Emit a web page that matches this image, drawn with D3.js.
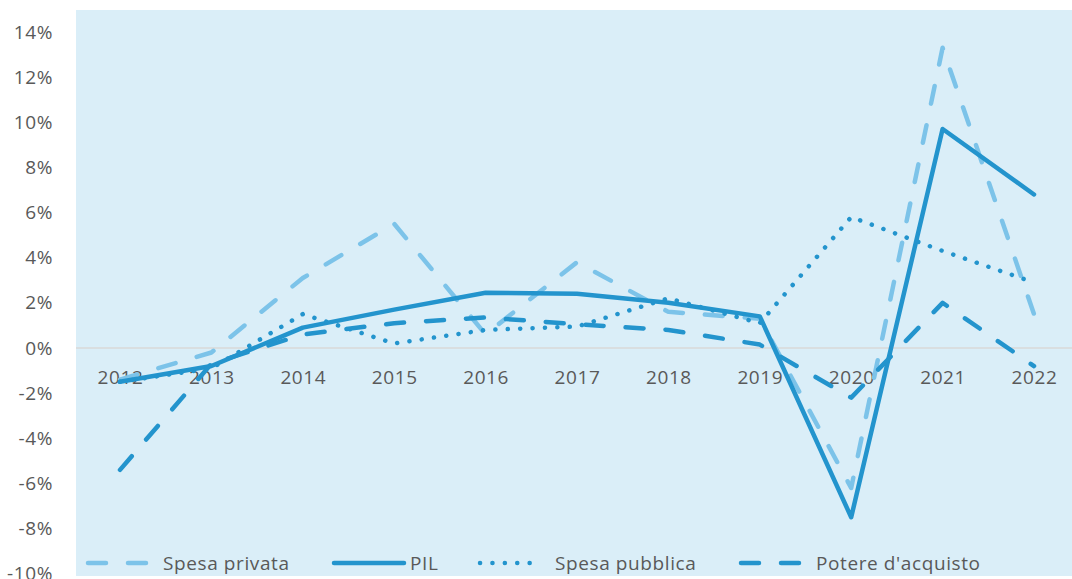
<!DOCTYPE html>
<html>
<head>
<meta charset="utf-8">
<script src="https://cdn.jsdelivr.net/npm/d3@7"></script>
<style>
  body { margin: 0; background: #fff; }
  svg { display: block; font-family: "Open Sans", sans-serif; }
</style>
</head>
<body>
<svg width="1072" height="579"></svg>
<script>
const years = [2012, 2013, 2014, 2015, 2016, 2017, 2018, 2019, 2020, 2021, 2022];
const spesaPrivata = [-1.4, -0.2, 3.1, 5.5, 0.6, 3.8, 1.6, 1.3, -6.2, 13.3, 1.5];
const pil = [-1.5, -0.8, 0.9, 1.7, 2.45, 2.4, 2.0, 1.4, -7.5, 9.7, 6.8];
const spesaPubblica = [-1.5, -0.9, 1.5, 0.2, 0.8, 0.95, 2.2, 1.1, 5.8, 4.3, 2.9];
const potere = [-5.4, -0.7, 0.6, 1.1, 1.35, 1.05, 0.8, 0.15, -2.2, 2.0, -0.8];
const yTicks = [-10, -8, -6, -4, -2, 0, 2, 4, 6, 8, 10, 12, 14];

const series = [
    { name: "Spesa privata", values: spesaPrivata, color: "#7cc3e9", dash: "18,22", width: 4.5 },
    { name: "PIL", values: pil, color: "#2394cd", dash: null, width: 4.5 },
    { name: "Spesa pubblica", values: spesaPubblica, color: "#2394cd", dash: "0.1,12.3", width: 4.5 },
    { name: "Potere d'acquisto", values: potere, color: "#2394cd", dash: "18,22", width: 4.5 }
];

const svg = d3.select("svg");
const bg = { x: 76, y: 10, w: 996, h: 566 };
const fontSize = 19;
const spacing = "0.6px";

svg.append("rect")
    .attr("x", bg.x).attr("y", bg.y)
    .attr("width", bg.w).attr("height", bg.h)
    .attr("fill", "#daeef8");

const x = d3.scalePoint().domain(years).range([120, 1034]);
const y = d3.scaleLinear().domain([-10, 15]).range([573.7, 9.4]);

// y axis labels
const yAxis = svg.append("g")
    .attr("transform", `translate(${bg.x - 23},0)`)
    .call(d3.axisLeft(y).tickValues(yTicks).tickSize(0).tickPadding(0).tickFormat(d => d + "%"));
yAxis.select(".domain").remove();
yAxis.selectAll("text")
    .attr("fill", "#595959")
    .attr("font-size", fontSize)
    .attr("letter-spacing", spacing)
    .attr("font-family", "Open Sans, sans-serif");

// zero line
svg.append("line")
    .attr("x1", bg.x).attr("x2", bg.x + bg.w)
    .attr("y1", y(0)).attr("y2", y(0))
    .attr("stroke", "#d9d9d9").attr("stroke-width", 1.5);

// category labels
const xAxis = svg.append("g")
    .attr("transform", `translate(0,${y(0)})`)
    .call(d3.axisBottom(x).tickSize(0).tickPadding(23));
xAxis.select(".domain").remove();
xAxis.selectAll("text")
    .attr("fill", "#595959")
    .attr("font-size", fontSize)
    .attr("letter-spacing", spacing)
    .attr("font-family", "Open Sans, sans-serif");

const line = d3.line()
    .x((d, i) => x(years[i]))
    .y(d => y(d));

series.forEach(s => {
    svg.append("path")
        .datum(s.values)
        .attr("d", line)
        .attr("fill", "none")
        .attr("stroke", s.color)
        .attr("stroke-width", s.width)
        .attr("stroke-linecap", "round")
        .attr("stroke-linejoin", "round")
        .attr("stroke-dasharray", s.dash);
});

// legend
const legendX = [88, 334, 480, 741];
const legendY = 563;
const legend = svg.append("g");
series.forEach((s, i) => {
    const g = legend.append("g").attr("transform", `translate(${legendX[i]},${legendY})`);
    g.append("line")
        .attr("x1", 0).attr("x2", s.dash === "0.1,12.3" ? 62 : (s.dash ? 58 : 70))
        .attr("y1", 0).attr("y2", 0)
        .attr("stroke", s.color)
        .attr("stroke-width", s.width)
        .attr("stroke-linecap", "round")
        .attr("stroke-dasharray", s.dash);
    g.append("text")
        .attr("x", s.dash ? 75 : 76)
        .attr("y", 0)
        .attr("dy", "0.35em")
        .attr("fill", "#595959")
        .attr("font-size", fontSize)
        .attr("letter-spacing", spacing)
        .text(s.name);
});
</script>
</body>
</html>
